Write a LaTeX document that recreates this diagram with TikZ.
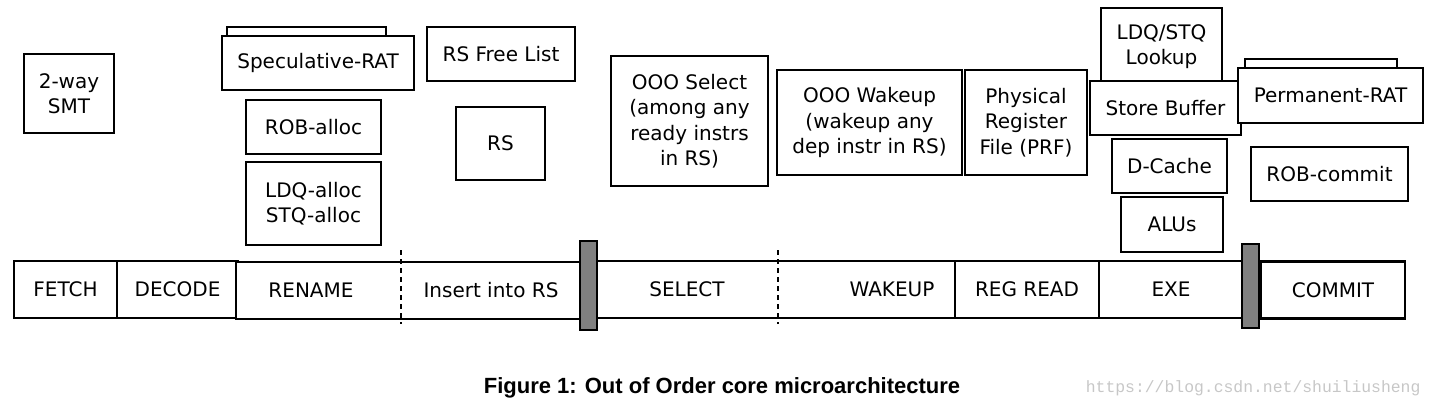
\documentclass[tikz,border=0pt]{standalone}
\usepackage{fontspec}
\setmainfont{DejaVu Sans}
\newfontfamily\capfont{Liberation Sans}
\newfontfamily\wmfont{Liberation Mono}
\usetikzlibrary{positioning}
\tikzset{
  blk/.style={draw,line width=1.3pt,fill=white,inner sep=0pt,align=center,
    font=\fontsize{20}{25.5}\selectfont},
  shadowblk/.style={draw,line width=1.3pt,fill=white,inner sep=0pt},
  stage/.style={draw,line width=2.4pt,fill=white,inner sep=0pt,
    minimum height=57pt,font=\fontsize{20}{24}\selectfont},
  latch/.style={draw,line width=2pt,fill=black!50,inner sep=0pt,minimum width=17pt},
  lbl/.style={inner sep=0pt,font=\fontsize{20}{24}\selectfont},
}
\begin{document}
\begin{tikzpicture}[x=1pt,y=-1pt]
  \useasboundingbox (0,0) rectangle (1437,410);
  % front-end blocks
  \node[blk,minimum width=90pt,minimum height=79pt] (smt) at (69,93.5) {2-way\\SMT};
  \node[shadowblk,minimum width=159pt,minimum height=22pt] (specback) at (306.5,38) {};
  \node[blk,minimum width=192pt,minimum height=54pt] (spec) at (318,63) {Speculative-RAT};
  \node[blk,minimum width=135pt,minimum height=54pt] (roballoc) at (313.5,127) {ROB-alloc};
  \node[blk,minimum width=135pt,minimum height=83pt] (lsqalloc) at (313.5,203.5) {LDQ-alloc\\STQ-alloc};
  \node[blk,minimum width=148pt,minimum height=54pt] (rsfree) at (501,54) {RS Free List};
  \node[blk,minimum width=89pt,minimum height=73pt] (rs) at (500.5,143.5) {RS};
  % scheduler blocks
  \node[blk,minimum width=157pt,minimum height=130pt] (oooselect) at (689.5,121)
    {OOO Select\\(among any\\ready instrs\\in RS)};
  \node[blk,minimum width=185pt,minimum height=105pt] (ooowakeup) at (869.5,122.5)
    {OOO Wakeup\\(wakeup any\\dep instr in RS)};
  \node[blk,minimum width=122pt,minimum height=105pt] (prf) at (1026,122.5)
    {Physical\\Register\\File (PRF)};
  % execute blocks
  \node[blk,minimum width=121pt,minimum height=77pt] (lsqlookup) at (1161.5,46.5) {LDQ/STQ\\Lookup};
  \node[blk,minimum width=151pt,minimum height=54pt] (storebuf) at (1165.5,108) {Store Buffer};
  \node[blk,minimum width=115pt,minimum height=54pt] (dcache) at (1169.5,166) {D-Cache};
  \node[blk,minimum width=102pt,minimum height=55pt] (alus) at (1172,224.5) {ALUs};
  % commit blocks
  \node[shadowblk,minimum width=152pt,minimum height=22pt] (permback) at (1321,70) {};
  \node[blk,minimum width=185pt,minimum height=55pt] (perm) at (1330.5,95.5) {Permanent-RAT};
  \node[blk,minimum width=157pt,minimum height=54pt] (robcommit) at (1329.5,174) {ROB-commit};

  % pipeline
  \node[stage,minimum width=103pt] (fetch) at (65.5,289.5) {FETCH};
  \node[stage,minimum width=121pt] (decode) at (177.5,289.5) {DECODE};
  \node[stage,minimum width=346pt] (rename) at (409,290.5) {};
  \node[lbl] (renamelbl) at (311,290) {RENAME};
  \node[lbl] (insertlbl) at (491,290) {Insert into RS};
  \draw[line width=2.2pt,dash pattern=on 5pt off 4pt] (401,250) -- (401,324);
  \node[stage,minimum width=358pt] (selwake) at (776,289.5) {};
  \node[lbl] (selectlbl) at (687,289) {SELECT};
  \node[lbl] (wakeuplbl) at (892,289) {WAKEUP};
  \draw[line width=2.2pt,dash pattern=on 5pt off 4pt] (778,250) -- (778,324);
  \node[stage,minimum width=144pt] (regread) at (1027,289.5) {REG READ};
  \node[stage,minimum width=144pt] (exe) at (1171,289.5) {EXE};
  \node[stage,minimum width=144pt] (commit) at (1333,290) {COMMIT};
  \node[latch,minimum height=89pt] (latcha) at (588.5,285.5) {};
  \node[latch,minimum height=84pt] (latchb) at (1250.5,286) {};

  % caption
  \node[font=\capfont\bfseries\fontsize{22}{26}\selectfont] (caption) at (722,388)
    {Figure 1: Out of Order core microarchitecture};
  \node[font=\wmfont\fontsize{16.4}{20}\selectfont,text=black!22,anchor=east] (mark) at (1424,388)
    {https://blog.csdn.net/shuiliusheng};
\end{tikzpicture}
\end{document}
